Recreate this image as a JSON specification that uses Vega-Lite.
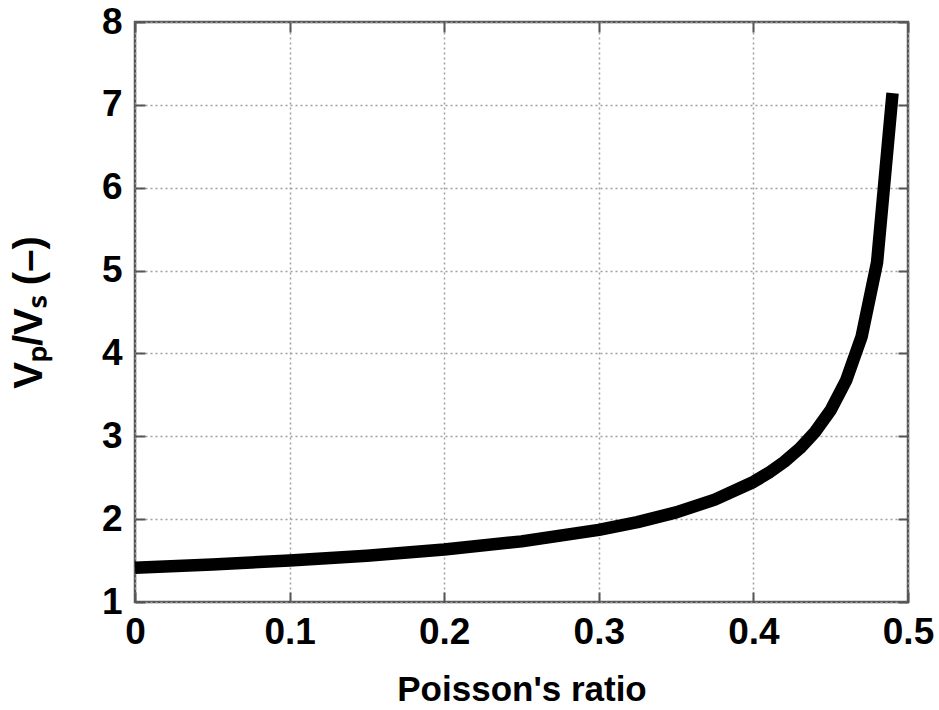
{
  "$schema": "https://vega.github.io/schema/vega-lite/v6.json",
  "width": 773,
  "height": 580,
  "autosize": {"type": "none"},
  "padding": {"left": 135, "top": 22, "right": 31, "bottom": 108},
  "background": "white",
  "config": {
    "view": {"stroke": "#555555", "strokeWidth": 2.5},
    "font": "Liberation Sans",
    "axis": {
      "labelFont": "Liberation Sans",
      "labelFontWeight": "bold",
      "labelFontSize": 37,
      "labelColor": "#000000",
      "titleFont": "Liberation Sans",
      "titleFontWeight": "bold",
      "titleFontSize": 35,
      "titleColor": "#000000",
      "domain": false,
      "tickColor": "#555555",
      "tickWidth": 2,
      "tickSize": -10,
      "gridColor": "#a0a0a0",
      "gridDash": [2, 3],
      "gridWidth": 1.5,
      "labelOverlap": false,
      "labelBound": false,
      "labelFlush": false
    }
  },
  "data": {
    "values": [
      {"nu": 0.0, "ratio": 1.414},
      {"nu": 0.05, "ratio": 1.453},
      {"nu": 0.1, "ratio": 1.5},
      {"nu": 0.15, "ratio": 1.558},
      {"nu": 0.2, "ratio": 1.633},
      {"nu": 0.25, "ratio": 1.732},
      {"nu": 0.3, "ratio": 1.871},
      {"nu": 0.325, "ratio": 1.964},
      {"nu": 0.35, "ratio": 2.082},
      {"nu": 0.375, "ratio": 2.236},
      {"nu": 0.4, "ratio": 2.449},
      {"nu": 0.41, "ratio": 2.56},
      {"nu": 0.42, "ratio": 2.693},
      {"nu": 0.43, "ratio": 2.854},
      {"nu": 0.44, "ratio": 3.055},
      {"nu": 0.45, "ratio": 3.317},
      {"nu": 0.46, "ratio": 3.674},
      {"nu": 0.47, "ratio": 4.203},
      {"nu": 0.48, "ratio": 5.099},
      {"nu": 0.49, "ratio": 7.141}
    ]
  },
  "resolve": {"axis": {"x": "independent", "y": "independent"}},
  "layer": [
    {
      "mark": {"type": "line", "color": "#000000", "strokeWidth": 12.5, "strokeCap": "butt", "strokeJoin": "round"},
      "encoding": {
        "x": {
          "field": "nu", "type": "quantitative",
          "scale": {"domain": [0, 0.5], "nice": false, "zero": false},
          "axis": {"orient": "bottom", "values": [0, 0.1, 0.2, 0.3, 0.4, 0.5], "format": "~g", "grid": true, "labelPadding": 22, "title": "Poisson's ratio", "titlePadding": 22}
        },
        "y": {
          "field": "ratio", "type": "quantitative",
          "scale": {"domain": [1, 8], "nice": false, "zero": false},
          "axis": {"orient": "left", "values": [1, 2, 3, 4, 5, 6, 7, 8], "grid": true, "labelPadding": 23, "title": "Vₚ/Vₛ (–)", "titleFontSize": 40, "titlePadding": 52}
        }
      }
    },
    {
      "mark": {"type": "line", "strokeOpacity": 0},
      "encoding": {
        "x": {
          "field": "nu", "type": "quantitative",
          "scale": {"domain": [0, 0.5], "nice": false, "zero": false},
          "axis": {"orient": "top", "values": [0, 0.1, 0.2, 0.3, 0.4, 0.5], "labels": false, "grid": false, "title": null}
        },
        "y": {
          "field": "ratio", "type": "quantitative",
          "scale": {"domain": [1, 8], "nice": false, "zero": false},
          "axis": {"orient": "right", "values": [1, 2, 3, 4, 5, 6, 7, 8], "labels": false, "grid": false, "title": null}
        }
      }
    }
  ]
}
